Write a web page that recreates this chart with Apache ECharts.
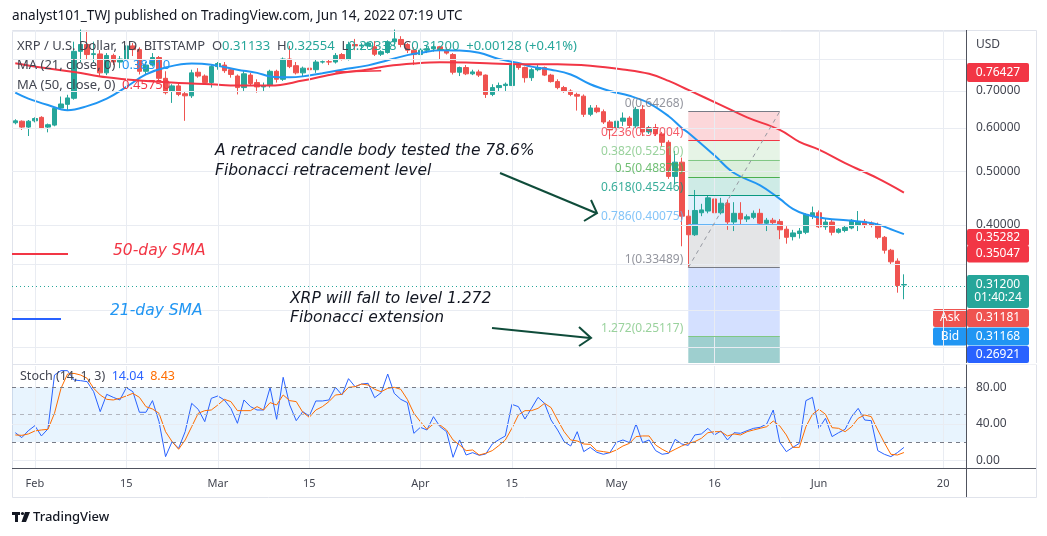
<!DOCTYPE html>
<html><head><meta charset="utf-8">
<script src="https://cdn.jsdelivr.net/npm/echarts@6/dist/echarts.min.js"></script>
<style>html,body{margin:0;padding:0;background:#fff;}#c{width:1047px;height:536px;}</style>
</head><body><div id="c"></div>
<script>
// ---------- DATA ----------
const startDate = Date.UTC(2022, 0, 29);
const categoryCount = 146;
const categories = [];
for (let i = 0; i < categoryCount; i++) categories.push(new Date(startDate + i * 86400000).toISOString().slice(0, 10));

const tickIndex = [3, 17, 31, 45, 62, 76, 92, 107, 123, 142];
const tickText  = ['Feb', '15', 'Mar', '15', 'Apr', '15', 'May', '16', 'Jun', '20'];

// [open, high, low, close]
const candles = [
[.613,.622,.609,.618],[.617,.619,.595,.602],[.602,.620,.580,.617],[.618,.627,.614,.624],[.627,.630,.597,.600],
[.602,.611,.589,.608],[.607,.654,.604,.651],[.652,.684,.649,.663],[.662,.689,.645,.680],[.679,.860,.675,.826],
[.826,.905,.790,.850],[.850,.900,.800,.815],[.815,.860,.790,.818],[.817,.830,.745,.755],[.755,.820,.748,.812],
[.812,.818,.780,.790],[.790,.810,.770,.800],[.800,.850,.795,.845],[.845,.855,.810,.832],[.832,.840,.750,.760],
[.760,.790,.750,.780],[.780,.820,.775,.805],[.805,.810,.730,.738],[.738,.760,.690,.695],[.700,.720,.666,.715],
[.715,.725,.685,.690],[.692,.700,.618,.686],[.686,.765,.680,.755],[.757,.770,.740,.745],[.745,.750,.720,.725],
[.725,.780,.710,.775],[.775,.790,.765,.785],[.780,.790,.755,.762],[.765,.770,.740,.750],[.745,.750,.690,.710],
[.710,.762,.700,.752],[.748,.755,.715,.722],[.725,.735,.695,.712],[.712,.725,.700,.716],[.717,.765,.710,.760],
[.760,.765,.725,.735],[.735,.805,.730,.800],[.800,.845,.770,.775],[.778,.790,.750,.755],[.755,.775,.745,.770],
[.770,.775,.740,.765],[.765,.800,.755,.790],[.790,.795,.785,.791],[.791,.800,.780,.790],[.790,.820,.785,.812],
[.815,.820,.795,.800],[.800,.860,.795,.850],[.850,.870,.830,.845],[.845,.855,.830,.848],[.845,.860,.835,.855],
[.842,.862,.810,.816],[.816,.830,.810,.825],[.822,.865,.818,.860],[.860,.905,.845,.870],[.868,.880,.840,.850],
[.850,.855,.820,.830],[.830,.840,.780,.815],[.815,.835,.800,.830],[.830,.845,.820,.835],[.835,.850,.825,.842],
[.842,.845,.800,.830],[.830,.840,.815,.820],[.815,.820,.750,.757],[.757,.775,.745,.772],[.772,.780,.748,.752],
[.752,.765,.748,.758],[.758,.765,.742,.748],[.748,.750,.680,.690],[.690,.720,.685,.710],[.710,.725,.700,.716],
[.716,.725,.700,.720],[.716,.790,.715,.780],[.780,.790,.765,.772],[.772,.775,.725,.740],[.740,.770,.730,.765],
[.765,.780,.760,.772],[.772,.775,.745,.748],[.748,.752,.725,.728],[.728,.735,.705,.710],[.710,.715,.695,.700],
[.700,.705,.685,.690],[.690,.695,.645,.685],[.685,.690,.628,.635],[.635,.660,.630,.652],[.652,.660,.638,.642],
[.642,.648,.610,.615],[.615,.620,.572,.595],[.598,.625,.590,.617],[.617,.640,.605,.625],[.625,.630,.600,.606],
[.605,.655,.600,.648],[.648,.660,.580,.590],[.590,.605,.585,.600],[.600,.610,.580,.585],[.585,.590,.555,.565],
[.565,.570,.485,.490],[.490,.545,.475,.520],[.520,.530,.366,.415],[.415,.426,.335,.384],[.384,.463,.382,.425],
[.421,.437,.415,.426],[.424,.452,.420,.448],[.446,.450,.410,.421],[.421,.448,.418,.438],[.438,.445,.392,.405],
[.405,.440,.390,.420],[.420,.440,.400,.410],[.410,.418,.405,.414],[.413,.425,.410,.420],[.420,.428,.400,.403],
[.403,.412,.390,.408],[.408,.412,.400,.404],[.406,.410,.377,.392],[.393,.398,.370,.380],[.381,.392,.375,.387],
[.386,.395,.378,.390],[.388,.420,.385,.418],[.415,.432,.410,.421],[.421,.425,.395,.397],[.397,.410,.392,.405],
[.405,.410,.383,.388],[.388,.395,.386,.393],[.391,.400,.388,.396],[.395,.410,.393,.408],[.400,.424,.390,.406],
[.406,.410,.395,.400],[.403,.406,.396,.400],[.400,.404,.377,.380],[.380,.382,.355,.360],[.360,.362,.340,.343],
[.344,.348,.3015,.3107],[.31133,.32554,.29338,.312]
];

// moving averages: [category index, value]
const ma21 = [[0,.695],[2,.678],[5,.66],[8,.646],[11,.657],[14,.678],[17,.712],[20,.75],[23,.772],[27,.785],[30,.781],[34,.765],[37,.755],[39,.744],[42,.741],[44,.744],[47,.754],[50,.765],[54,.779],[57,.796],[60,.813],[62,.821],[65,.83],[68,.829],[71,.821],[74,.80],[77,.787],[79,.775],[82,.765],[85,.75],[88,.72],[91,.70],[94,.686],[97,.665],[100,.63],[102,.60],[103,.588],[107,.535],[110,.497],[114,.472],[117,.446],[119,.428],[121,.418],[124,.411],[128,.407],[132,.401],[134,.393],[136,.385]];
const ma50 = [[0,.786],[4,.772],[9,.758],[14,.741],[19,.731],[25,.724],[30,.72],[34,.716],[39,.716],[44,.731],[49,.752],[54,.766],[57,.777],[61,.785],[65,.789],[69,.788],[73,.785],[78,.783],[83,.783],[88,.778],[93,.766],[97,.752],[100,.73],[103,.703],[108,.66],[112,.627],[117,.595],[120,.566],[123,.548],[127,.518],[132,.486],[136,.458]];
const drawnLine = [[49,.758],[56,.762]];

const stochK = [30.2,24.8,32.4,37.9,26.6,34.3,93.5,98.3,98.3,88,87.3,86.2,75.2,53.3,72.3,69,66.1,79.6,75.2,52.6,52.6,65.4,42.3,3.9,20.4,13,31.3,62.4,55.8,42.3,67.9,70.5,66.1,56.9,40.5,66.1,58.8,55.1,55.1,79.6,44.9,91,60.6,43.4,53.3,48.5,65,65,66.1,80,71.6,89.5,80.7,83.6,84.4,68.6,74.1,94.6,73.4,66.8,63.2,29.5,36.1,33.2,47.8,36.8,31.3,3.2,22.2,5.7,8.3,5.4,6.8,17.8,22.5,26.6,61.3,58.8,45.2,56.9,69,62.4,44.1,33.2,20.4,15.6,31.3,9.4,14.1,8.7,6.5,8.3,19.6,22.2,19.3,39.8,19.3,22.2,10.5,6.5,7.6,22.9,17.8,16.3,27.7,28.8,35,27.7,32.1,22.2,30.2,29.5,32.4,35,36.1,39.8,55.1,19.6,9.4,14.1,18.5,65.4,69,35,46,25.9,30.2,33.9,47.8,56.9,44.1,43.4,10.5,6.5,3.9,8.3,14.04];
const stochD = [27.7,27.3,28.8,32.1,33.2,33.9,51.5,78.9,94.6,95.3,93.5,89.9,78.9,71.6,66.8,66.1,67.9,70.5,73.4,69,58.8,56.2,51.5,31.3,20.4,12,22.2,36.8,51.5,54.4,55.1,60.6,66.8,64.3,54.4,54.4,54.4,58.8,55.1,63.2,60.6,71.6,65.4,64.3,52.6,47.1,55.1,58.8,64.3,71.6,72.3,80,80.7,83.6,82.5,77.8,75.2,78.9,80,77.8,66.8,51.5,42.3,33.9,39.8,38.7,33.2,22.2,16.7,10.5,11.2,5.7,7.6,10.5,16,22.2,35,49.6,54.4,54.4,56.9,62.4,57.7,44.1,31.3,22.2,21.1,17.8,17.4,10.5,9.4,8.3,11.2,15.6,18.5,25.9,26.6,26.6,16.7,12,8.3,12,15.6,18.5,20.4,24,30.2,31.3,31.3,26.6,28.8,27.7,31.3,33.2,35,36.8,43,37.6,27.7,14.1,14.1,36.8,50.4,55.8,50.4,35.7,35,31.3,36.8,46,49.6,47.8,33.2,19.3,6.5,5.7,8.43];

const priceGrid = [0.24, 0.28, 0.34, 0.4, 0.5, 0.6, 0.7, 0.8, 0.9];
const priceLabels = [0.4, 0.5, 0.6, 0.7];
const lastPrice = 0.312;

const fibStart = 103, fibEnd = 117;
const fibLevels = ['0', '0.236', '0.382', '0.5', '0.618', '0.786', '1', '1.272'];
const fibPrices = [0.64268, 0.57004, 0.52510, 0.48878, 0.45246, 0.40075, 0.33489, 0.25117];
const fibExtEnd = 0.20747;

// ---------- STYLE ----------
const FONT = 'Noto Sans';
const AFONT = 'DejaVu Sans';
const UP = '#26a69a', DOWN = '#ef5350';
const GRIDC = '#e9ecf2';
const fibLineColors = ['#787b86','#f23645','#81c784','#4caf50','#089981','#64b5f6','#787b86','#81c784'];
const fibZoneColors = ['rgba(242,54,69,0.2)','rgba(129,199,132,0.2)','rgba(76,175,80,0.2)','rgba(8,153,129,0.2)','rgba(100,181,246,0.2)','rgba(120,123,134,0.2)','rgba(41,98,255,0.2)','rgba(0,128,128,0.38)'];
const yMin = 0.2248, yMax = 0.903;

const chart = echarts.init(document.getElementById('c'));

const fibZones = [];
for (let k = 0; k < fibPrices.length; k++) {
  const lo = k + 1 < fibPrices.length ? fibPrices[k + 1] : Math.max(fibExtEnd, yMin);
  fibZones.push([{ xAxis: fibStart, yAxis: fibPrices[k], itemStyle: { color: fibZoneColors[k] } }, { xAxis: fibEnd, yAxis: lo }]);
}
const fibLines = fibPrices.map((p, k) => [
  { coord: [fibStart, p], lineStyle: { color: fibLineColors[k], width: 1, type: 'solid' } },
  { coord: [fibEnd, p] }
]);
fibLines.push([{ coord: [fibStart, fibPrices[6]], lineStyle: { color: '#9598a1', width: 1, type: [4, 4] } }, { coord: [fibEnd, fibPrices[0]] }]);

const fibLabelData = fibPrices.map((p, k) => ({
  value: [fibStart, p], name: fibLevels[k] + '(' + p.toFixed(5) + ')', label: { color: fibLineColors[k] }
}));

const vLines = tickIndex.map(i => ({ xAxis: i }));
const hLines = priceGrid.map(v => ({
  yAxis: v,
  label: priceLabels.indexOf(v) >= 0 ? { show: true, formatter: v.toFixed(5) } : { show: false }
}));

function badge(x, y, w, h, color, text, lh) {
  return {
    type: 'group', x: x, y: y, z: 200,
    children: [
      { type: 'rect', shape: { x: 0, y: 0, width: w, height: h, r: 2 }, style: { fill: color } },
      { type: 'text', x: w / 2, y: h / 2, style: { text: text, fill: '#fff', font: '12px "' + FONT + '"', align: 'center', verticalAlign: 'middle', lineHeight: lh || 14 } }
    ]
  };
}

const annot = (x, y, text, color) => ({
  type: 'text', x: x, y: y, z: 150,
  style: { text: text, fill: color, font: 'italic 15.5px "' + AFONT + '"', verticalAlign: 'middle' }
});

const graphics = [
  { type: 'rect', z: -1, shape: { x: 12.5, y: 30.5, width: 1024, height: 467 }, style: { fill: 'none', stroke: '#e0e3eb', lineWidth: 1 } },
  { type: 'line', z: 150, shape: { x1: 12, y1: 364.5, x2: 1036, y2: 364.5 }, style: { stroke: '#e0e3eb', lineWidth: 1 } },
  { type: 'line', z: 150, shape: { x1: 966.5, y1: 30, x2: 966.5, y2: 497 }, style: { stroke: '#50535e', lineWidth: 1 } },
  { type: 'line', z: 150, shape: { x1: 12, y1: 468.5, x2: 1036, y2: 468.5 }, style: { stroke: '#50535e', lineWidth: 1 } },
  { type: 'text', x: 12, y: 16, z: 150, style: { text: 'analyst101_TWJ published on TradingView.com, Jun 14, 2022 07:19 UTC', fill: '#131722', font: '13.6px "' + FONT + '"', verticalAlign: 'middle' } },
  { type: 'text', x: 17, y: 46, z: 150, style: {
      text: '{d|XRP / U.S. Dollar, 1D, BITSTAMP  O}{g|0.31133}{d|  H}{g|0.32554}{d|  L}{g|0.29338}{d|  C}{g|0.31200}{g|  +0.00128 (+0.41%)}',
      verticalAlign: 'middle', font: '13px "' + FONT + '"',
      rich: { d: { fill: '#434651', fontSize: 13, fontFamily: FONT }, g: { fill: '#26a69a', fontSize: 13, fontFamily: FONT } } } },
  { type: 'text', x: 17, y: 65, z: 150, style: {
      text: '{d|MA (21, close, 0)  }{b|0.38510}', verticalAlign: 'middle', font: '13px "' + FONT + '"',
      rich: { d: { fill: '#434651', fontSize: 13, fontFamily: FONT }, b: { fill: '#2196f3', fontSize: 13, fontFamily: FONT } } } },
  { type: 'text', x: 17, y: 85, z: 150, style: {
      text: '{d|MA (50, close, 0)  }{r|0.45750}', verticalAlign: 'middle', font: '13px "' + FONT + '"',
      rich: { d: { fill: '#434651', fontSize: 13, fontFamily: FONT }, r: { fill: '#f23645', fontSize: 13, fontFamily: FONT } } } },
  { type: 'text', x: 20, y: 376, z: 150, style: {
      text: '{d|Stoch (14, 1, 3)  }{b|14.04}{d|  }{o|8.43}', verticalAlign: 'middle', font: '12.5px "' + FONT + '"',
      rich: { d: { fill: '#434651', fontSize: 12.5, fontFamily: FONT }, b: { fill: '#2962ff', fontSize: 12.5, fontFamily: FONT }, o: { fill: '#ff6d00', fontSize: 12.5, fontFamily: FONT } } } },
  { type: 'text', x: 976, y: 45, z: 150, style: { text: 'USD', fill: '#434651', font: '12px "' + FONT + '"', verticalAlign: 'middle' } },
  annot(215, 151, 'A retraced candle body tested the 78.6%', '#131722'),
  annot(215, 171, 'Fibonacci retracement level', '#131722'),
  annot(290, 299, 'XRP will fall to level 1.272', '#131722'),
  annot(290, 318, 'Fibonacci extension', '#131722'),
  annot(113, 251, '50-day SMA', '#f23645'),
  annot(110, 311, '21-day SMA', '#2196f3'),
  { type: 'line', z: 150, shape: { x1: 12, y1: 254, x2: 68, y2: 254 }, style: { stroke: '#f23645', lineWidth: 2 } },
  { type: 'line', z: 150, shape: { x1: 12, y1: 319, x2: 61, y2: 319 }, style: { stroke: '#2962ff', lineWidth: 2 } },
  { type: 'line', z: 150, shape: { x1: 500, y1: 173, x2: 596, y2: 213 }, style: { stroke: '#0f4c3a', lineWidth: 2 } },
  { type: 'polyline', z: 150, shape: { points: [[584, 221], [597, 213], [591, 200]] }, style: { stroke: '#0f4c3a', lineWidth: 2, fill: 'none' } },
  { type: 'line', z: 150, shape: { x1: 492, y1: 328, x2: 590, y2: 338 }, style: { stroke: '#0f4c3a', lineWidth: 2 } },
  { type: 'polyline', z: 150, shape: { points: [[579, 327], [591, 338], [579, 346]] }, style: { stroke: '#0f4c3a', lineWidth: 2, fill: 'none' } },
  badge(967, 63, 62, 19, '#f23645', '0.76427'),
  badge(967, 229, 62, 17, '#f23645', '0.35282'),
  badge(967, 245.5, 62, 17, '#f23645', '0.35047'),
  badge(967, 275, 62, 33, '#26a69a', '0.31200\n01:40:24', 13),
  badge(933, 309, 34, 18, '#ef5350', 'Ask'),
  badge(967, 309, 62, 18, '#ef5350', '0.31181'),
  badge(933, 327.5, 34, 18, '#2196f3', 'Bid'),
  badge(967, 327.5, 62, 18, '#2196f3', '0.31168'),
  badge(967, 346, 62, 17, '#2962ff', '0.26921'),
  { type: 'rect', z: 210, shape: { x: 960, y: 363, width: 80, height: 1.5 }, style: { fill: '#fff' } },
  // TradingView logo
  { type: 'rect', z: 150, shape: { x: 12, y: 512, width: 8, height: 3 }, style: { fill: '#131722' } },
  { type: 'rect', z: 150, shape: { x: 15, y: 512, width: 3, height: 10 }, style: { fill: '#131722' } },
  { type: 'circle', z: 150, shape: { cx: 22.5, cy: 513.5, r: 1.6 }, style: { fill: '#131722' } },
  { type: 'polygon', z: 150, shape: { points: [[25, 512], [30, 512], [26, 522], [21.5, 522]] }, style: { fill: '#131722' } },
  { type: 'text', x: 33, y: 517, z: 150, style: { text: 'TradingView', fill: '#131722', font: '500 13px "' + FONT + '"', verticalAlign: 'middle' } }
];

const option = {
  animation: false,
  backgroundColor: '#ffffff',
  textStyle: { fontFamily: FONT },
  grid: [
    { left: 12, top: 30, width: 954, height: 333 },
    { left: 12, top: 366, width: 954, height: 102 }
  ],
  xAxis: [
    { type: 'category', gridIndex: 0, data: categories, show: false, boundaryGap: true },
    { type: 'category', gridIndex: 1, data: categories, boundaryGap: true,
      axisLine: { show: false }, axisTick: { show: false }, splitLine: { show: false },
      axisLabel: { interval: (idx) => tickIndex.indexOf(idx) >= 0, formatter: (v, idx) => tickText[tickIndex.indexOf(idx)], color: '#434651', fontSize: 11, margin: 10, fontFamily: FONT } }
  ],
  yAxis: [
    { type: 'log', logBase: 10, gridIndex: 0, min: yMin, max: yMax, position: 'right', axisLine: { show: false }, axisTick: { show: false }, axisLabel: { show: false }, splitLine: { show: false } },
    { type: 'value', gridIndex: 1, min: -8.56, max: 103.4, position: 'right', axisLine: { show: false }, axisTick: { show: false }, axisLabel: { show: false }, splitLine: { show: false } }
  ],
  graphic: graphics,
  series: [
    { type: 'line', name: 'grid', xAxisIndex: 0, yAxisIndex: 0, data: categories.map(() => null), z: 1, silent: true,
      markLine: { silent: true, symbol: 'none', animation: false,
        lineStyle: { color: GRIDC, width: 1, type: 'solid' },
        label: { position: 'end', distance: 10, color: '#434651', fontSize: 12, fontFamily: FONT },
        data: vLines.map(d => Object.assign({ label: { show: false } }, d)).concat(hLines) } },
    { type: 'line', name: 'fib', xAxisIndex: 0, yAxisIndex: 0, data: categories.map(() => null), z: 2, silent: true,
      markArea: { silent: true, data: fibZones },
      markLine: { silent: true, symbol: 'none', label: { show: false }, data: fibLines } },
    { type: 'candlestick', name: 'XRP', xAxisIndex: 0, yAxisIndex: 0, z: 3, barWidth: 5,
      data: candles.map(c => [c[0], c[3], c[2], c[1]]),
      itemStyle: { color: UP, color0: DOWN, borderColor: UP, borderColor0: DOWN, borderWidth: 1 },
      markLine: { silent: true, symbol: 'none', label: { show: false },
        lineStyle: { color: UP, type: [1, 3], width: 1 }, data: [{ yAxis: lastPrice }] } },
    { type: 'line', name: 'MA21', xAxisIndex: 0, yAxisIndex: 0, z: 4, data: ma21, smooth: 0.4, showSymbol: false, lineStyle: { color: '#2196f3', width: 2 } },
    { type: 'line', name: 'MA50', xAxisIndex: 0, yAxisIndex: 0, z: 4, data: ma50, smooth: 0.4, showSymbol: false, lineStyle: { color: '#f23645', width: 2 } },
    { type: 'line', name: 'drawn', xAxisIndex: 0, yAxisIndex: 0, z: 4, data: drawnLine, showSymbol: false, lineStyle: { color: '#f23645', width: 1.5 } },
    { type: 'scatter', name: 'fibLabels', xAxisIndex: 0, yAxisIndex: 0, z: 5, symbolSize: 0, silent: true,
      data: fibLabelData,
      label: { show: true, position: 'left', distance: 5, offset: [0, -8], fontSize: 12, fontFamily: FONT, formatter: p => p.name } },
    // stochastic pane
    { type: 'line', name: 'stochGrid', xAxisIndex: 1, yAxisIndex: 1, data: categories.map(() => null), z: 1, silent: true,
      markArea: { silent: true, itemStyle: { color: 'rgba(33,150,243,0.1)' }, data: [[{ yAxis: 20 }, { yAxis: 80 }]] },
      markLine: { silent: true, symbol: 'none',
        label: { position: 'end', distance: 10, color: '#434651', fontSize: 12, fontFamily: FONT },
        data: vLines.map(d => Object.assign({ label: { show: false }, lineStyle: { color: GRIDC, width: 1, type: 'solid' } }, d))
          .concat([
            { yAxis: 40, lineStyle: { color: GRIDC, width: 1, type: 'solid' }, label: { show: true, formatter: '40.00' } },
            { yAxis: 0, lineStyle: { color: GRIDC, width: 1, type: 'solid' }, label: { show: true, formatter: '0.00' } },
            { yAxis: 80, lineStyle: { color: '#787b86', width: 1, type: [4, 4] }, label: { show: true, formatter: '80.00' } },
            { yAxis: 50, lineStyle: { color: '#b2b5be', width: 1, type: [4, 4] }, label: { show: false } },
            { yAxis: 20, lineStyle: { color: '#787b86', width: 1, type: [4, 4] }, label: { show: false } }
          ]) } },
    { type: 'line', name: '%K', xAxisIndex: 1, yAxisIndex: 1, z: 3, data: stochK, showSymbol: false, lineStyle: { color: '#2962ff', width: 1 } },
    { type: 'line', name: '%D', xAxisIndex: 1, yAxisIndex: 1, z: 3, data: stochD, showSymbol: false, lineStyle: { color: '#ff6d00', width: 1 } }
  ]
};
chart.setOption(option);
</script></body></html>
